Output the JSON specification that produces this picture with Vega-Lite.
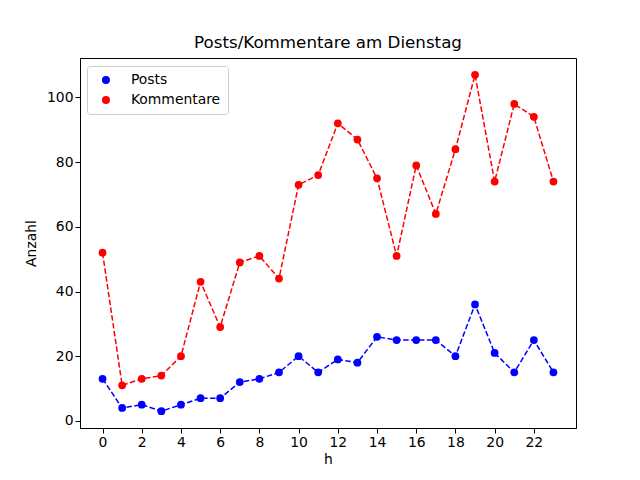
{
  "$schema": "https://vega.github.io/schema/vega-lite/v6.json",
  "autosize": "none",
  "width": 496,
  "height": 370,
  "padding": {"left": 80, "top": 58, "right": 64, "bottom": 52},
  "background": "white",
  "title": {"text": "Posts/Kommentare am Dienstag", "font": "DejaVu Sans", "fontSize": 16.7, "fontWeight": "normal", "color": "black", "offset": 6},
  "config": {
    "font": "DejaVu Sans",
    "view": {"stroke": "black", "strokeWidth": 1},
    "axis": {
      "grid": false,
      "domainColor": "black",
      "tickColor": "black",
      "tickSize": 5,
      "labelColor": "black",
      "labelFontSize": 13.9,
      "titleFontSize": 13.9,
      "titleFontWeight": "normal",
      "titleColor": "black",
      "labelFont": "DejaVu Sans",
      "titleFont": "DejaVu Sans"
    }
  },
  "data": {
    "values": [
      {"h": 0, "s": "Posts", "v": 13}, {"h": 1, "s": "Posts", "v": 4}, {"h": 2, "s": "Posts", "v": 5}, {"h": 3, "s": "Posts", "v": 3},
      {"h": 4, "s": "Posts", "v": 5}, {"h": 5, "s": "Posts", "v": 7}, {"h": 6, "s": "Posts", "v": 7}, {"h": 7, "s": "Posts", "v": 12},
      {"h": 8, "s": "Posts", "v": 13}, {"h": 9, "s": "Posts", "v": 15}, {"h": 10, "s": "Posts", "v": 20}, {"h": 11, "s": "Posts", "v": 15},
      {"h": 12, "s": "Posts", "v": 19}, {"h": 13, "s": "Posts", "v": 18}, {"h": 14, "s": "Posts", "v": 26}, {"h": 15, "s": "Posts", "v": 25},
      {"h": 16, "s": "Posts", "v": 25}, {"h": 17, "s": "Posts", "v": 25}, {"h": 18, "s": "Posts", "v": 20}, {"h": 19, "s": "Posts", "v": 36},
      {"h": 20, "s": "Posts", "v": 21}, {"h": 21, "s": "Posts", "v": 15}, {"h": 22, "s": "Posts", "v": 25}, {"h": 23, "s": "Posts", "v": 15},
      {"h": 0, "s": "Kommentare", "v": 52}, {"h": 1, "s": "Kommentare", "v": 11}, {"h": 2, "s": "Kommentare", "v": 13}, {"h": 3, "s": "Kommentare", "v": 14},
      {"h": 4, "s": "Kommentare", "v": 20}, {"h": 5, "s": "Kommentare", "v": 43}, {"h": 6, "s": "Kommentare", "v": 29}, {"h": 7, "s": "Kommentare", "v": 49},
      {"h": 8, "s": "Kommentare", "v": 51}, {"h": 9, "s": "Kommentare", "v": 44}, {"h": 10, "s": "Kommentare", "v": 73}, {"h": 11, "s": "Kommentare", "v": 76},
      {"h": 12, "s": "Kommentare", "v": 92}, {"h": 13, "s": "Kommentare", "v": 87}, {"h": 14, "s": "Kommentare", "v": 75}, {"h": 15, "s": "Kommentare", "v": 51},
      {"h": 16, "s": "Kommentare", "v": 79}, {"h": 17, "s": "Kommentare", "v": 64}, {"h": 18, "s": "Kommentare", "v": 84}, {"h": 19, "s": "Kommentare", "v": 107},
      {"h": 20, "s": "Kommentare", "v": 74}, {"h": 21, "s": "Kommentare", "v": 98}, {"h": 22, "s": "Kommentare", "v": 94}, {"h": 23, "s": "Kommentare", "v": 74}
    ]
  },
  "encoding": {
    "x": {
      "field": "h", "type": "quantitative", "title": "h",
      "scale": {"domain": [-1.15, 24.15], "nice": false, "zero": false},
      "axis": {"values": [0, 2, 4, 6, 8, 10, 12, 14, 16, 18, 20, 22], "labelAngle": 0, "labelFlush": false, "titlePadding": 4}
    },
    "y": {
      "field": "v", "type": "quantitative", "title": "Anzahl",
      "scale": {"domain": [-2.2, 112.2], "nice": false, "zero": false},
      "axis": {"values": [0, 20, 40, 60, 80, 100], "labelFlush": false, "titlePadding": 8}
    }
  },
  "layer": [
    {
      "transform": [{"filter": "datum.s === 'Posts'"}],
      "mark": {"type": "line", "strokeDash": [5.5, 2.4], "strokeWidth": 1.5, "color": "#0000ff"}
    },
    {
      "transform": [{"filter": "datum.s === 'Kommentare'"}],
      "mark": {"type": "line", "strokeDash": [5.5, 2.4], "strokeWidth": 1.5, "color": "#ff0000"}
    },
    {
      "mark": {"type": "point", "filled": true, "shape": "circle", "size": 60, "opacity": 1},
      "encoding": {
        "color": {
          "field": "s", "type": "nominal", "title": null,
          "scale": {"domain": ["Posts", "Kommentare"], "range": ["#0000ff", "#ff0000"]},
          "legend": {
            "orient": "none", "legendX": 7, "legendY": 8,
            "padding": 7, "strokeColor": "#cccccc", "fillColor": "white", "cornerRadius": 3,
            "labelFontSize": 13.9, "labelFont": "DejaVu Sans", "labelColor": "black",
            "symbolType": "circle", "symbolSize": 64, "symbolOffset": 5, "rowPadding": 5, "labelOffset": 18
          }
        }
      }
    }
  ]
}
